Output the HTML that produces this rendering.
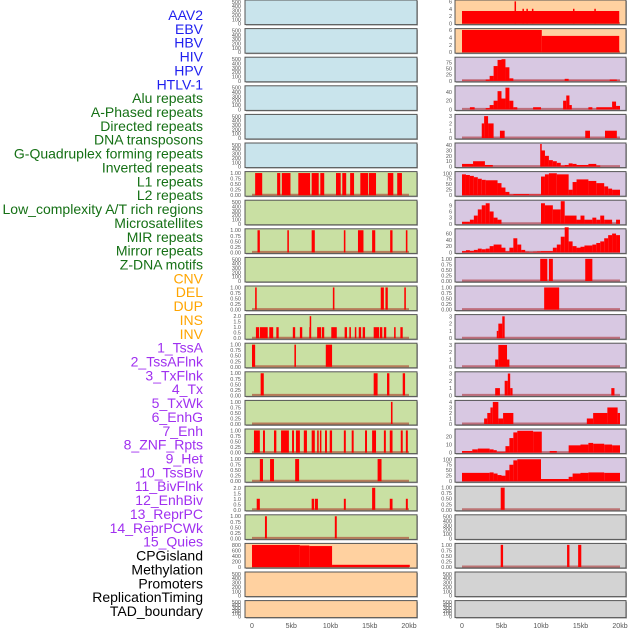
<!DOCTYPE html>
<html><head><meta charset="utf-8"><style>
body{margin:0;background:#fff;}
svg{display:block;font-family:"Liberation Sans",sans-serif;}
</style></head><body>
<svg id="c" width="630" height="630" viewBox="0 0 630 630"></svg>
<script>
const labels=["AAV2","EBV","HBV","HIV","HPV","HTLV-1","Alu repeats","A-Phased repeats","Directed repeats","DNA transposons","G-Quadruplex forming repeats","Inverted repeats","L1 repeats","L2 repeats","Low_complexity A/T rich regions","Microsatellites","MIR repeats","Mirror repeats","Z-DNA motifs","CNV","DEL","DUP","INS","INV","1_TssA","2_TssAFlnk","3_TxFlnk","4_Tx","5_TxWk","6_EnhG","7_Enh","8_ZNF_Rpts","9_Het","10_TssBiv","11_BivFlnk","12_EnhBiv","13_ReprPC","14_ReprPCWk","15_Quies","CPGisland","Methylation","Promoters","ReplicationTiming","TAD_boundary"];
const xTickLabels=["0","5kb","10kb","15kb","20kb"];
const xTickValues=[0,5,10,15,20];
// segment data: [startKb, endKb, value]
const left6=[[0.4,1.3,1],[3.2,3.6,1],[3.8,4.9,1],[5.9,7.4,1],[7.6,8.5,1],[8.7,9.2,1],[10.7,11.3,1],[11.5,12,1],[12.5,13,1],[13.8,14.8,1],[14.9,15.8,1],[17.3,18,1],[18.5,19.1,1]];
const left8=[[0.7,1.0,1],[4.5,4.7,1],[7.6,8,1],[11.7,11.9,1],[13.5,14.2,1],[15.3,15.7,1],[17.6,17.9,1],[19.6,19.8,1]];
const left10=[[0.4,0.6,1],[10.3,10.5,1],[16.4,16.8,1],[17,17.3,1],[19.4,19.6,1]];
const left11=[[0.5,0.9,1],[1.0,2.0,1],[2.2,2.7,1],[3.1,3.4,1],[5.2,5.5,1],[6.1,6.4,1],[7.3,7.5,1],[7.35,7.45,2],[8.3,8.8,1],[8.9,9.2,1],[10.1,10.8,1],[11.8,12.1,1],[12.4,12.6,1],[13.1,13.2,1],[13.6,13.9,1],[14.1,14.4,1],[15.5,16.2,1],[16.3,16.6,1],[16.8,17.1,1],[18.1,18.3,1],[18.9,19.2,1]];
const left12=[[0,0.4,1],[5.4,5.6,1],[9.4,10.2,1]];
const left13=[[1.1,1.5,1],[15.5,16,1],[17.2,17.5,1],[19.2,19.5,1]];
const left14=[[17.7,17.9,1]];
const left15=[[0.25,1.0,1],[1.4,1.65,1],[2.8,3.1,1],[3.7,4.7,1],[5.1,5.35,1],[5.6,6.1,1],[6.6,7.0,1],[7.6,8.0,1],[8.3,8.5,1],[8.65,8.8,1],[9.3,9.55,1],[9.9,10.2,1],[11.7,11.95,1],[12.7,12.95,1],[14.4,14.65,1],[15.3,15.8,1],[16.8,17.05,1],[17.55,17.9,1],[18.95,19.2,1],[19.6,19.85,1]];
const left16=[[1.0,1.4,1],[2.3,2.8,1],[5.5,6.0,1],[16.0,16.5,1]];
const left17=[[0.6,1.0,1],[7.6,7.9,1],[8.0,8.4,1],[11.7,11.95,1],[15.3,15.7,2],[17.55,17.9,1],[19.6,19.85,1]];
const left18=[[1.65,1.9,1],[10.55,10.8,1]];
const left19=[[0,6.1,800],[6.1,7.3,780],[7.3,10.2,760],[10.2,20.1,80]];
const right0=[[0,19.9,3.4],[6.65,6.75,6],[7.65,7.75,4],[8.15,8.25,4],[8.85,8.95,4],[14.05,14.15,4],[16.75,16.85,4]];
const right1=[[0,10.1,6],[10.1,19.9,4.4]];
const right2=[[0,20,1],[3.0,3.5,5],[3.5,4.0,20],[4.0,4.5,60],[4.5,5.0,85],[5.0,5.5,88],[5.5,6.0,55],[6.0,6.5,10],[13.0,13.5,8],[18.7,19.6,5]];
const right3=[[1,1.6,5],[3.0,3.5,3],[3.5,4.0,10],[4.0,4.5,20],[4.5,5.0,42],[5.0,5.5,25],[5.5,6.0,50],[6.0,6.5,20],[6.5,7.0,5],[9,10,5],[12.8,13.2,20],[13.2,13.6,32],[13.6,13.9,10],[16,16.5,5],[17,19,5],[19,19.5,18],[19.5,20,8]];
const right4=[[2.5,2.8,2],[2.8,3.3,3],[3.3,4.0,2],[4.8,5.4,1],[15.6,16.2,1],[18.1,19.6,1]];
const right5=[[0,1.4,5],[1.4,2.9,10],[2.9,3.9,3],[9.9,10,42],[10,10.5,30],[10.5,11,20],[11,11.5,12],[11.5,12,10],[12,12.5,7],[12.5,13,2],[13,13.5,3],[13.5,14,6],[14,14.5,5],[14.5,16,3],[16,17,5],[17,17.5,2]];
const right6=[[0,0.5,95],[0.5,1,92],[1,1.5,88],[1.5,2,82],[2,2.5,75],[2.5,3,70],[3,4.5,68],[4.5,5,55],[5,5.5,35],[5.5,6,15],[6,6.5,3],[6.5,8.5,5],[8.5,10,3],[10,10.5,85],[10.5,11,95],[11,12,100],[12,13.5,95],[13.5,14,25],[14,14.5,60],[14.5,16,72],[16,17,65],[17,18,55],[18,18.5,40],[18.5,19,30],[19,20,25]];
const right7=[[0,1,1],[1,1.5,2],[1.5,2,4],[2,2.5,7],[2.5,3,9],[3,3.5,10],[3.5,4,6],[4,4.5,3],[4.5,5,2],[10,10.5,10],[10.5,11.5,9],[11.5,12.5,7],[12.5,13,11],[13,14.5,4],[14.5,15,2],[15,15.5,4],[15.5,16.5,2],[16.5,17,3],[17,17.5,2],[17.5,18,4],[18,19,2],[19.5,20,2]];
const right8=[[0,0.5,4],[0.5,1,7],[1,1.5,5],[1.5,2,8],[2,2.5,12],[2.5,3,10],[3,3.5,12],[3.5,4,20],[4,5,25],[5,5.5,15],[5.5,6,3],[6,6.5,15],[6.5,7,45],[7,7.5,25],[7.5,8,8],[8,8.5,2],[8.5,9,1],[9,9.5,2],[9.5,10,3],[10,11.5,4],[11.5,12,15],[12,12.5,25],[12.5,13,50],[13,13.5,80],[13.5,14,35],[14,14.5,20],[14.5,15,15],[15,15.5,18],[15.5,16.5,22],[16.5,17,25],[17,17.5,30],[17.5,18,35],[18,18.5,45],[18.5,19,55],[19,19.5,60],[19.5,20,55]];
const right9=[[9.9,10.8,1],[11,11.5,1],[15.6,16.5,1]];
const right10=[[10.4,12.3,1]];
const right11=[[4.4,4.6,1],[4.6,5.1,2],[5.1,5.4,3]];
const right12=[[4.2,4.6,1],[4.6,5.7,3],[5.7,6.0,1]];
const right13=[[4.2,4.8,1],[5.4,5.8,2],[5.8,6.1,3],[6.1,6.4,1],[18.9,19.3,1]];
const right14=[[2.8,3.2,1],[3.2,3.6,2],[3.6,3.9,3],[3.9,4.6,4],[4.6,5.2,1],[5.2,6.5,2],[15.8,16.6,1],[16.6,18.4,2],[18.4,19.7,3],[19.7,20,2]];
const right15=[[0,1.3,2],[1.3,2,4],[2,3.5,5],[3.5,4,4],[4,4.4,3],[4.4,5.5,1],[5.5,6,8],[6,6.5,18],[6.5,7,25],[7,9,27],[9,10.1,26],[11.1,12,2],[13.5,15,9],[15,16,10],[16,16.6,12],[16.6,18,11],[18,19,10],[19,20,9]];
const right16=[[0,3.5,38],[3.5,4,40],[4,4.5,35],[4.5,5,28],[5,5.5,25],[5.5,6,50],[6,6.5,75],[6.5,7,95],[7,10,100],[10,13.5,10],[13.5,14,20],[14,15,35],[15,16,38],[16,18,40],[18,20,38]];
const right17=[[4.9,5.4,1]];
const right19=[[4.9,5.2,1],[13.3,13.6,1],[14.7,15.1,1]];

const BLUE="#c9e4ec",GREEN="#c9e0a3",PEACH="#ffd1a0",LAV="#d8c8e2",GRAY="#d3d3d3";
const T01=[0,0.25,0.5,0.75,1],T500=[0,100,200,300,400,500];
// panel specs: [col,row,bg,ymax,ticks,data,name]
const panels=[];
for(let r=0;r<22;r++){
  let lbg=r<6?BLUE:(r<19?GREEN:PEACH);
  panels.push({col:0,row:r,bg:lbg,ymax:520,ticks:T500,data:null});
  let rbg=r<2?PEACH:(r<17?LAV:GRAY);
  panels.push({col:1,row:r,bg:rbg,ymax:520,ticks:T500,data:null});
}
function setP(col,row,ymax,ticks,data){const p=panels.find(q=>q.col===col&&q.row===row);p.ymax=ymax;p.ticks=ticks;p.data=data;}
[[6,left6],[8,left8],[10,left10],[12,left12],[13,left13],[14,left14],[15,left15],[16,left16],[18,left18]].forEach(a=>setP(0,a[0],1.02,T01,a[1]));
setP(0,11,2.05,[0,0.5,1,1.5,2],left11);
setP(0,17,2.05,[0,0.5,1,1.5,2],left17);
setP(0,19,820,[0,200,400,600,800],left19);
setP(1,0,6.1,[0,2,4,6],right0);
setP(1,1,6.1,[0,2,4,6],right1);
setP(1,2,92,[0,25,50,75],right2);
setP(1,3,52,[0,20,40],right3);
setP(1,4,3.1,[0,1,2,3],right4);
setP(1,5,42,[0,10,20,30,40],right5);
setP(1,6,103,[0,25,50,75,100],right6);
setP(1,7,11,[0,3,6,9],right7);
setP(1,8,72,[0,20,40,60],right8);
setP(1,9,1.02,T01,right9);
setP(1,10,1.02,T01,right10);
setP(1,11,3.1,[0,1,2,3],right11);
setP(1,12,3.1,[0,1,2,3],right12);
setP(1,13,3.1,[0,1,2,3],right13);
setP(1,14,4.1,[0,1,2,3,4],right14);
setP(1,15,28,[0,10,20],right15);
setP(1,16,103,[0,25,50,75,100],right16);
setP(1,17,1.02,T01,right17);
setP(1,19,1.02,T01,right19);

const svg=document.getElementById('c');
const NS="http://www.w3.org/2000/svg";
function mk(tag,attrs,parent){const e=document.createElementNS(NS,tag);for(const k in attrs)e.setAttribute(k,attrs[k]);(parent||svg).appendChild(e);return e;}

// row labels
labels.forEach((t,i)=>{
  let col=i<6?"#1f1fef":(i<19?"#157015":(i<24?"#ffa500":(i<39?"#a030f0":"#000")));
  const e=mk('text',{x:203,y:20+i*13.86,'text-anchor':'end','font-size':14,fill:col});
  e.textContent=t;
  
  
});

const colX=[245,455],colW=[172,171],dx0=[252,462],kbPx=[7.85,7.9];
panels.forEach(p=>{
  const top=p.row*28.6, h=p.row===21?17:24.6;
  const x=colX[p.col], w=colW[p.col];
  const g=mk('g',{});
  
  
  mk('rect',{x:x+1,y:top+1,width:w,height:h,fill:'#aaa'},g);
  mk('rect',{x:x,y:top,width:w,height:h,fill:p.bg,stroke:'#555','stroke-width':1},g);
  const ys=v=>top+h-1-(v/p.ymax)*(h-2);
  const xs=kb=>dx0[p.col]+kb*kbPx[p.col];
  if(p.data){
    mk('line',{x1:xs(0),x2:xs(20),y1:top+h-1.5,y2:top+h-1.5,stroke:'rgba(160,0,0,0.45)','stroke-width':2},g);
    p.data.forEach(s=>{
      const b=mk('rect',{x:xs(s[0]),y:ys(s[2]),width:Math.max(1.5,xs(s[1])-xs(s[0])),height:ys(0)-ys(s[2]),fill:'#ff0000'},g);
      
      
    });
  }
  const tx=p.col?452:241;
  p.ticks.forEach(v=>{
    const t=mk('text',{x:tx,y:ys(v)+2,'text-anchor':'end','font-size':5.5,fill:'#555'},g);
    t.textContent=(p.ticks===T01)?v.toFixed(2):(p.ticks[p.ticks.length-1]===2?v.toFixed(1):String(v));
    
    
  });
});
// x axes
[0,1].forEach(c=>{
  xTickValues.forEach((v,i)=>{
    const t=mk('text',{x:dx0[c]+v*kbPx[c],y:628,'text-anchor':'middle','font-size':7,fill:'#555'});
    t.textContent=xTickLabels[i];
    
    
  });
});
</script>
</body></html>
